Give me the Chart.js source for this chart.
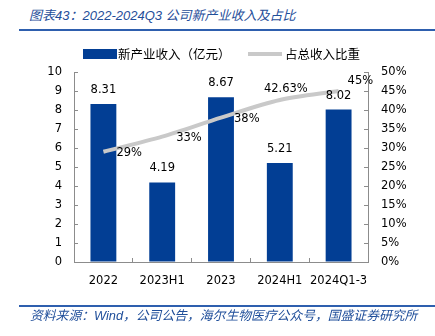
<!DOCTYPE html>
<html><head><meta charset="utf-8">
<script src="https://cdn.jsdelivr.net/npm/chart.js@4/dist/chart.umd.min.js"></script>
<style>
html,body{margin:0;padding:0;background:#fff;}
#wrap{position:relative;width:435px;height:336px;overflow:hidden;}
#c{position:absolute;left:0;top:0;}
.t{position:absolute;white-space:nowrap;font-style:italic;color:#1f4e9a;font-family:"Liberation Sans","Noto Sans CJK SC",sans-serif;}
.rule{position:absolute;left:19px;width:416px;height:2px;background:#2e5fae;}
</style></head>
<body><div id="wrap">
<div class="t" style="left:29px;top:7px;font-size:13px;line-height:17px;">图表43：2022-2024Q3 公司新产业收入及占比</div>
<div class="rule" style="top:29px;"></div>
<canvas id="c" width="435" height="336"></canvas>
<div class="rule" style="top:305px;"></div>
<div class="t" style="left:30px;top:307px;font-size:12.8px;line-height:17px;">资料来源：Wind，公司公告，海尔生物医疗公众号，国盛证券研究所</div>
</div>
<script>
const categories = ['2022', '2023H1', '2023', '2024H1', '2024Q1-3'];
const revenueValues = [8.31, 4.19, 8.67, 5.21, 8.02];
const shareValues = [29, 33, 38, 42.63, 45];
const leftTicks = [0,1,2,3,4,5,6,7,8,9,10];
const rightTicks = [0,5,10,15,20,25,30,35,40,45,50];
const seriesNames = ['新产业收入（亿元）', '占总收入比重'];

const BAR_COLOR = '#023e94';
const LINE_COLOR = '#c9c9c9';
const AXIS_COLOR = '#8c8c8c';
const TICK_FONT = {family: '"DejaVu Sans"', size: 11.5};

const linePlacement = [
  {align:'left', dx:13, dy:1},
  {align:'left', dx:14, dy:1},
  {align:'left', dx:13, dy:1},
  {align:'center', dx:6, dy:-11},
  {align:'left', dx:9, dy:-10}
];

const labelPlugin = {
  id: 'valueLabels',
  afterDatasetsDraw(chart) {
    const ctx = chart.ctx;
    ctx.save();
    ctx.font = '11.5px "DejaVu Sans"';
    ctx.fillStyle = '#000';
    const bm = chart.getDatasetMeta(0);
    bm.data.forEach((el, i) => {
      ctx.textAlign = 'center'; ctx.textBaseline = 'middle';
      ctx.fillText(revenueValues[i].toFixed(2), el.x, el.y - 14);
    });
    const lm = chart.getDatasetMeta(1);
    lm.data.forEach((el, i) => {
      const p = linePlacement[i];
      ctx.textAlign = p.align; ctx.textBaseline = 'middle';
      ctx.fillText(String(shareValues[i]) + '%', el.x + p.dx, el.y + p.dy);
    });
    ctx.restore();
  }
};

const legendPlugin = {
  id: 'customLegend',
  afterDraw(chart) {
    const ctx = chart.ctx;
    ctx.save();
    ctx.fillStyle = BAR_COLOR;
    ctx.fillRect(83, 49, 34, 10);
    ctx.strokeStyle = LINE_COLOR;
    ctx.lineWidth = 4;
    ctx.beginPath(); ctx.moveTo(248, 54); ctx.lineTo(282, 54); ctx.stroke();
    ctx.fillStyle = '#000';
    ctx.font = '12.5px "Noto Sans CJK SC"';
    ctx.textAlign = 'left'; ctx.textBaseline = 'middle';
    ctx.fillText(seriesNames[0], 118, 54);
    ctx.fillText(seriesNames[1], 285, 54);
    ctx.restore();
  }
};

new Chart(document.getElementById('c'), {
  data: {
    labels: categories,
    datasets: [
      {type:'bar', label: seriesNames[0], data: revenueValues, backgroundColor: BAR_COLOR,
       yAxisID:'y', barPercentage:0.44, categoryPercentage:1, order:2},
      {type:'line', label: seriesNames[1], data: shareValues, borderColor: LINE_COLOR, borderWidth:4,
       pointRadius:0, tension:0.3, yAxisID:'y1', order:1}
    ]
  },
  options: {
    responsive:false, animation:false,
    layout:{padding:{top:72, left:0, right:0, bottom:0}},
    plugins:{legend:{display:false}, tooltip:{enabled:false}},
    scales:{
      x:{
        offset:true,
        grid:{display:true, drawOnChartArea:false, drawTicks:true, tickLength:-4, color:AXIS_COLOR, offset:true},
        border:{display:true, color:AXIS_COLOR},
        ticks:{color:'#000', font:TICK_FONT, padding:16.5, maxRotation:0, autoSkip:false},
        afterFit(s){ s.height = 74; }
      },
      y:{
        position:'left', min:0, max:10,
        afterBuildTicks(s){ s.ticks = leftTicks.map(v=>({value:v})); },
        grid:{display:true, drawOnChartArea:false, drawTicks:true, tickLength:-4, color:AXIS_COLOR},
        border:{display:true, color:AXIS_COLOR},
        ticks:{color:'#000', font:TICK_FONT, padding:16},
        afterFit(s){ s.width = 74; }
      },
      y1:{
        position:'right', min:0, max:50,
        afterBuildTicks(s){ s.ticks = rightTicks.map(v=>({value:v})); },
        grid:{display:true, drawOnChartArea:false, drawTicks:true, tickLength:-4, color:AXIS_COLOR},
        border:{display:true, color:AXIS_COLOR},
        ticks:{color:'#000', font:TICK_FONT, padding:17, callback:(v)=>v+'%'},
        afterFit(s){ s.width = 67; }
      }
    }
  },
  plugins:[labelPlugin, legendPlugin]
});
</script>
</body></html>
